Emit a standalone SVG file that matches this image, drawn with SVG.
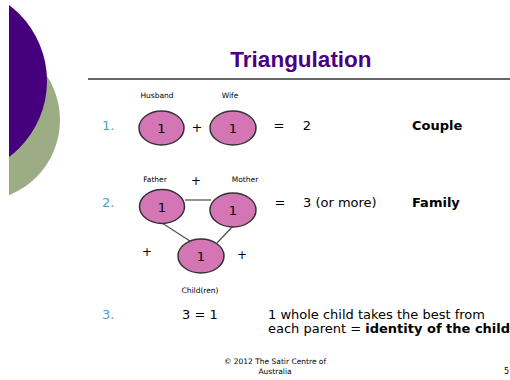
<svg xmlns="http://www.w3.org/2000/svg" width="510" height="380" viewBox="0 0 510 380">
<defs>
<style>
.t{font-family:"DejaVu Sans","Liberation Sans",sans-serif;fill:#000}
.num{font-family:"DejaVu Sans",sans-serif;font-size:13px;fill:#4a9fd0}
.lbl{font-family:"DejaVu Sans",sans-serif;font-size:7.5px;fill:#000;text-anchor:middle}
.node ellipse{fill:#d475b5;stroke:#333;stroke-width:1.5}
.node text{font-family:"DejaVu Sans",sans-serif;font-size:13px;fill:#000;text-anchor:middle}
.conn line{stroke:#555;stroke-width:1.3}
</style>
<clipPath id="cl"><rect x="9" y="0" width="501" height="380"/></clipPath>
</defs>
<rect width="510" height="380" fill="#fff"/>
<g id="decor" clip-path="url(#cl)">
<circle cx="-21" cy="120" r="81" fill="#9cad85"/>
<circle cx="-48" cy="81" r="95" fill="#46007e"/>
</g>
<text x="301" y="67" text-anchor="middle" font-family="Liberation Sans,Arial,sans-serif" font-weight="bold" font-size="22.5" fill="#4b0082">Triangulation</text>
<line x1="88" y1="79" x2="510" y2="79" stroke="#333" stroke-width="1.5"/>

<text class="num" x="102" y="130">1.</text>
<text class="num" x="102" y="207">2.</text>
<text class="num" x="102" y="319">3.</text>

<g id="conn" class="conn">
<line x1="185" y1="200" x2="211" y2="200"/>
<line x1="162" y1="223" x2="193" y2="243"/>
<line x1="233" y1="226" x2="217" y2="243"/>
</g>

<g id="husband" class="node"><ellipse cx="161.5" cy="128" rx="22.5" ry="17"/><text x="161.5" y="133">1</text></g>
<g id="wife" class="node"><ellipse cx="233" cy="128" rx="23" ry="17"/><text x="233" y="133">1</text></g>
<g id="father" class="node"><ellipse cx="162" cy="206.5" rx="22.5" ry="17"/><text x="162" y="211.5">1</text></g>
<g id="mother" class="node"><ellipse cx="233" cy="210" rx="23" ry="17"/><text x="233" y="215">1</text></g>
<g id="child" class="node"><ellipse cx="201" cy="256" rx="23" ry="17"/><text x="201" y="261">1</text></g>

<text class="lbl" x="157" y="98">Husband</text>
<text class="lbl" x="230" y="98">Wife</text>
<text class="lbl" x="155" y="182">Father</text>
<text class="lbl" x="245" y="182">Mother</text>
<text class="lbl" x="200" y="293">Child(ren)</text>

<g class="t" font-size="13">
<text x="197" y="132" text-anchor="middle">+</text>
<text x="279" y="130" text-anchor="middle">=</text>
<text x="307" y="130" text-anchor="middle">2</text>
<text x="196" y="185" text-anchor="middle" font-size="12">+</text>
<text x="147" y="256" text-anchor="middle" font-size="12">+</text>
<text x="242" y="259" text-anchor="middle" font-size="12">+</text>
<text x="280" y="207" text-anchor="middle">=</text>
<text x="303" y="207">3 (or more)</text>
<text x="412" y="130" font-weight="bold">Couple</text>
<text x="412" y="207" font-weight="bold">Family</text>
<text x="182" y="319">3 = 1</text>
<text x="268" y="319">1 whole child takes the best from</text>
<text x="268" y="333">each parent = <tspan font-weight="bold">identity of the child</tspan></text>
</g>
<text class="lbl" x="275" y="364">© 2012 The Satir Centre of</text>
<text class="lbl" x="275" y="374">Australia</text>
<text class="t" x="504" y="374" font-size="8">5</text>
</svg>
